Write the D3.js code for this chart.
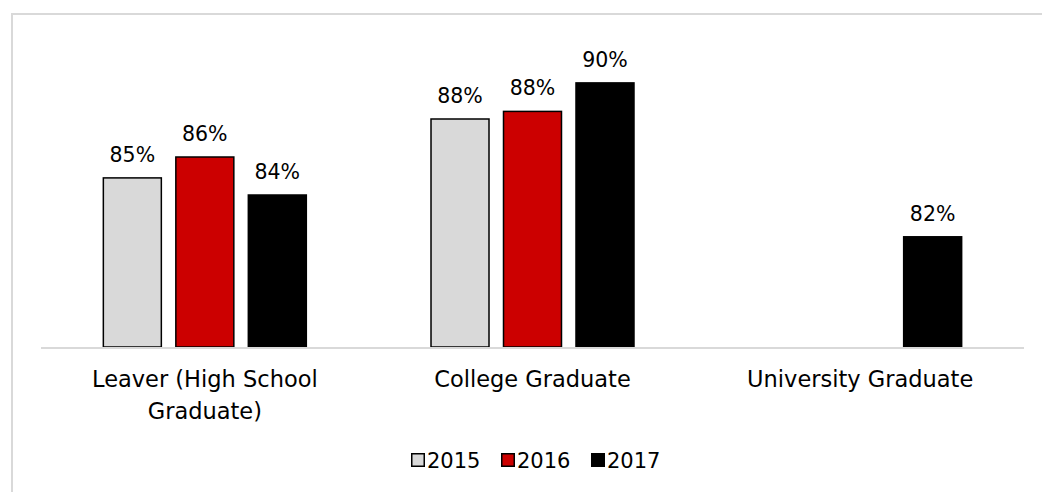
<!doctype html>
<html>
<head>
    <meta charset="utf-8"/>
    <style>
        html, body {
            margin: 0;
            padding: 0;
            background: #fff;
        }
        svg text {
            font-family: "DejaVu Sans", sans-serif;
            fill: #000;
        }
    </style>
    <script src="https://d3js.org/d3.v7.min.js"></script>
</head>
<body>
<svg id="chart" width="1042" height="492"></svg>
<script>

    // Chart data
    var categories = [["Leaver (High School", "Graduate)"], ["College Graduate"], ["University Graduate"]];
    var years = ["2015", "2016", "2017"];
    var values2015 = [84.9, 88.0, null];
    var values2016 = [86.0, 88.4, null];
    var values2017 = [84.0, 89.9, 81.8];
    var colors = ["#d9d9d9", "#cc0000", "#000000"];

    var series = [values2015, values2016, values2017];

    var svg = d3.select("#chart");
    var width = 1042, height = 492;
    var plot = {left: 41, right: 1024, top: 24, bottom: 347};

    // Outer frame (runs off the right and bottom edge like the original)
    svg.append("rect")
        .attr("x", 12)
        .attr("y", 14)
        .attr("width", width + 20)
        .attr("height", height + 20)
        .attr("fill", "none")
        .attr("stroke", "#d9d9d9")
        .attr("stroke-width", 2);

    var x0 = d3.scaleBand()
        .domain(d3.range(categories.length))
        .range([plot.left, plot.right]);

    var x1 = d3.scaleBand()
        .domain(years)
        .range([0, x0.bandwidth()])
        .paddingInner(0.2)
        .paddingOuter(0.86);

    var y = d3.scaleLinear()
        .domain([76, 93])
        .range([plot.bottom, plot.top]);

    // flatten into bar records
    var bars = [];
    categories.forEach(function(c, i) {
        years.forEach(function(yr, j) {
            var v = series[j][i];
            if (v !== null) bars.push({cat: i, year: yr, idx: j, value: v});
        });
    });

    var g = svg.append("g");

    g.selectAll("rect.bar")
        .data(bars).enter()
        .append("rect")
        .attr("class", "bar")
        .attr("x", function(d) { return x0(d.cat) + x1(d.year); })
        .attr("y", function(d) { return y(d.value); })
        .attr("width", x1.bandwidth())
        .attr("height", function(d) { return plot.bottom - y(d.value); })
        .attr("fill", function(d) { return colors[d.idx]; })
        .attr("stroke", "#000")
        .attr("stroke-width", 1.5);

    // baseline
    g.append("line")
        .attr("x1", plot.left)
        .attr("x2", plot.right)
        .attr("y1", plot.bottom + 1)
        .attr("y2", plot.bottom + 1)
        .attr("stroke", "#d9d9d9")
        .attr("stroke-width", 2);

    // value labels
    g.selectAll("text.val")
        .data(bars).enter()
        .append("text")
        .attr("class", "val")
        .attr("x", function(d) { return x0(d.cat) + x1(d.year) + x1.bandwidth() / 2; })
        .attr("y", function(d) { return y(d.value) - 16; })
        .attr("text-anchor", "middle")
        .style("font-size", "20.5px")
        .text(function(d) { return Math.round(d.value) + "%"; });

    // category labels
    var catLabels = g.selectAll("text.cat")
        .data(categories).enter()
        .append("text")
        .attr("class", "cat")
        .attr("text-anchor", "middle")
        .style("font-size", "22.5px")
        .attr("transform", function(d, i) { return "translate(" + (x0(i) + x0.bandwidth() / 2) + ",387)"; });

    catLabels.selectAll("tspan")
        .data(function(d) { return d; }).enter()
        .append("tspan")
        .attr("x", 0)
        .attr("y", function(d, i) { return i * 32; })
        .text(function(d) { return d; });

    // legend
    var legend = svg.append("g").attr("transform", "translate(411,453)");
    var item = legend.selectAll("g")
        .data(years).enter()
        .append("g")
        .attr("transform", function(d, i) { return "translate(" + (i * 90) + ",0)"; });

    item.append("rect")
        .attr("x", 0.75)
        .attr("y", 0.75)
        .attr("width", 12.5)
        .attr("height", 12.5)
        .attr("fill", function(d, i) { return colors[i]; })
        .attr("stroke", "#000")
        .attr("stroke-width", 1.5);

    item.append("text")
        .attr("x", 16)
        .attr("y", 14.5)
        .style("font-size", "21px")
        .text(function(d) { return d; });

</script>
</body>
</html>
